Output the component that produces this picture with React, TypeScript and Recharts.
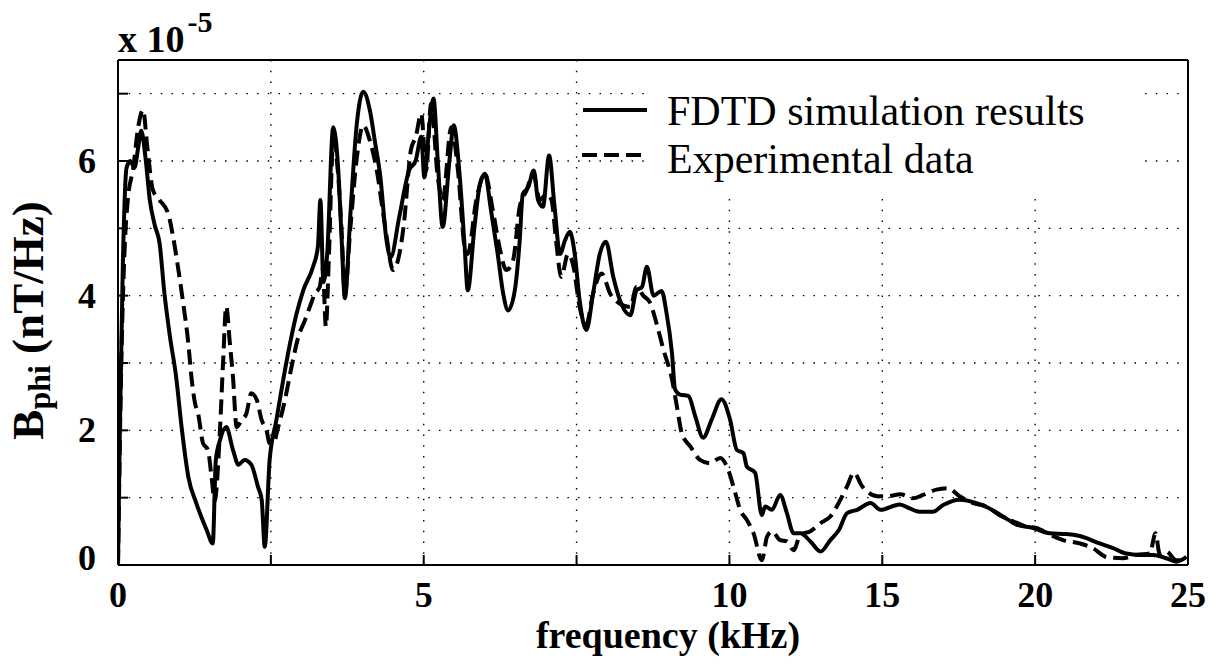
import React from 'react';
import { LineChart, Line, XAxis, YAxis, CartesianGrid, Legend, Label } from 'recharts';

// frequency in kHz, B_phi in units of 1e-5 nT/Hz
const fdtdFreq = [
  0, 0.03, 0.08, 0.14, 0.2, 0.27, 0.33, 0.38, 0.45, 0.52, 0.6, 0.68, 0.76, 0.85, 0.95, 1.04, 1.15, 1.28, 1.45, 1.55,
  1.6, 1.67, 1.77, 1.88, 1.97, 2.07, 2.18, 2.29, 2.35, 2.4, 2.48, 2.59, 2.76, 2.92, 3.03, 3.19, 3.27, 3.31, 3.36, 3.42,
  3.52, 3.6, 3.66, 3.71, 3.8, 3.9, 4.01, 4.12, 4.2, 4.29, 4.39, 4.46, 4.6, 4.76, 4.87, 4.96, 5.01, 5.09, 5.16, 5.23,
  5.31, 5.42, 5.49, 5.59, 5.67, 5.72, 5.83, 5.91, 6.0, 6.1, 6.21, 6.3, 6.38, 6.49, 6.57, 6.62, 6.71, 6.8, 6.87, 6.95,
  7.05, 7.14, 7.23, 7.31, 7.39, 7.47, 7.55, 7.66, 7.77, 7.88, 7.98, 8.1, 8.21, 8.38, 8.48, 8.57, 8.65, 8.76, 8.89, 8.97,
  9.06, 9.11, 9.19, 9.33, 9.44, 9.57, 9.71, 9.87, 10.02, 10.24, 10.46, 10.57, 10.84, 11.06, 11.17, 11.39, 11.66, 11.88,
  12.1, 12.32, 12.65, 12.98, 13.3, 13.58, 13.85, 14.18, 14.62, 14.94, 15.57, 15.9, 16.22, 16.66, 16.99, 17.53, 18.08,
  18.51, 18.95, 19.39, 19.93, 20.48, 21.02, 21.46, 22.11, 22.55, 22.98, 23.42, 23.86, 24.29, 24.62, 24.95,
];
const fdtdB = [
  0, 2.0, 4.5, 5.9, 6.0, 5.9, 6.2, 6.45, 6.05, 5.42, 5.05, 4.78, 4.03, 3.39, 2.8, 2.05, 1.31, 0.92, 0.52, 0.32,
  1.56, 1.86, 2.05, 1.71, 1.49, 1.56, 1.49, 1.16, 0.97, 0.27, 1.56, 2.15, 3.04, 3.73, 4.08, 4.43, 4.73, 5.42, 4.2, 4.6,
  6.5, 5.9, 4.8, 3.96, 5.2, 6.5, 7.03, 6.75, 6.3, 5.77, 4.83, 4.57, 5.17, 5.86, 6.01, 6.36, 5.76, 6.5, 6.93, 6.0,
  5.02, 6.0, 6.53, 5.76, 4.72, 4.08, 5.02, 5.61, 5.81, 5.27, 4.62, 4.03, 3.78, 4.08, 4.82, 5.51, 5.61, 5.86, 5.42, 5.32,
  6.08, 5.32, 4.62, 4.82, 4.95, 4.62, 3.93, 3.49, 4.03, 4.62, 4.8, 4.28, 3.93, 3.71, 4.08, 4.13, 4.43, 4.0, 4.07, 3.75,
  3.15, 2.61, 2.53, 2.51, 2.21, 1.89, 2.16, 2.46, 2.16, 1.71, 1.66, 1.46, 1.37, 0.74, 0.87, 0.82, 1.04, 0.77,
  0.47, 0.47, 0.35, 0.2, 0.37, 0.52, 0.77, 0.82, 0.92, 0.82, 0.9, 0.84, 0.79, 0.79, 0.89, 0.97, 0.92,
  0.84, 0.72, 0.6, 0.55, 0.47, 0.46, 0.43, 0.32, 0.25, 0.17, 0.15, 0.15, 0.1, 0.05, 0.12,
];

const expFreq = [
  0, 0.055, 0.11, 0.16, 0.25, 0.33, 0.41, 0.48, 0.57, 0.68, 0.82, 0.9, 0.98, 1.06, 1.15, 1.2, 1.26, 1.31, 1.39, 1.47,
  1.53, 1.58, 1.67, 1.72, 1.77, 1.83, 1.88, 1.94, 2.02, 2.1, 2.18, 2.27, 2.35, 2.43, 2.48, 2.54, 2.62, 2.73, 2.84, 2.95,
  3.06, 3.14, 3.22, 3.3, 3.35, 3.4, 3.45, 3.52, 3.6, 3.66, 3.71, 3.8, 3.9, 4.01, 4.12, 4.23, 4.37, 4.5, 4.67, 4.79,
  4.87, 4.96, 5.04, 5.12, 5.23, 5.31, 5.45, 5.56, 5.67, 5.72, 5.86, 6.0, 6.13, 6.24, 6.35, 6.46, 6.57, 6.68, 6.79, 6.9,
  7.01, 7.09, 7.17, 7.25, 7.36, 7.45, 7.55, 7.66, 7.77, 7.91, 8.05, 8.21, 8.38, 8.48, 8.59, 8.7, 8.81, 8.92, 9.06, 9.14,
  9.22, 9.36, 9.52, 9.68, 9.85, 9.96, 10.19, 10.35, 10.57, 10.79, 11.06, 11.23, 11.39, 11.66, 11.88, 12.1, 12.32, 12.65,
  12.98, 13.3, 13.63, 13.85, 14.07, 14.34, 14.56, 14.84, 15.16, 15.6, 16.0, 16.33, 16.77, 17.15, 17.53, 17.97, 18.4,
  18.84, 19.28, 19.71, 20.04, 20.48, 20.91, 21.46, 21.89, 22.33, 22.87, 23.31, 23.75, 23.94, 24.07, 24.29, 24.62, 24.95,
];
const expB = [
  0, 3.04, 4.73, 5.42, 5.9, 6.5, 6.76, 6.2, 5.57, 5.42, 5.22, 4.88, 4.43, 3.93, 3.29, 2.8, 2.4, 2.25, 1.81, 1.71,
  1.31, 0.95, 2.05, 3.04, 3.84, 3.29, 2.8, 2.05, 2.15, 2.25, 2.55, 2.45, 2.15, 2.0, 1.81, 1.81, 2.05, 2.45, 2.95, 3.39,
  3.64, 3.84, 4.03, 4.13, 4.4, 3.54, 4.6, 6.3, 5.8, 4.9, 4.03, 5.0, 6.0, 6.53, 6.3, 5.87, 5.02, 4.38, 5.02, 6.16,
  6.36, 6.7, 5.86, 6.85, 5.76, 5.42, 6.5, 5.86, 4.72, 4.62, 5.42, 5.81, 5.27, 4.72, 4.38, 4.52, 5.32, 5.56, 5.81, 5.42,
  5.51, 5.42, 4.77, 4.28, 4.62, 4.43, 3.83, 3.58, 4.03, 4.33, 4.03, 3.88, 3.83, 4.13, 4.0, 3.9, 3.58, 3.2, 2.76, 2.36,
  1.96, 1.76, 1.56, 1.51, 1.59, 1.46, 1.07, 0.82, 0.67, 0.47, 0.07, 0.42, 0.5, 0.37, 0.35, 0.22, 0.45, 0.5,
  0.62, 0.72, 0.97, 1.17, 1.37, 1.17, 1.07, 1.02, 1.02, 1.05, 0.99, 1.04, 1.12, 1.14, 1.02, 0.92, 0.87,
  0.74, 0.65, 0.57, 0.55, 0.45, 0.37, 0.32, 0.25, 0.12, 0.1, 0.15, 0.17, 0.47, 0.17, 0.2, 0.07, 0.07,
];

const xTickPos = [0, 1, 2, 3, 4, 5, 6, 7];
const xTickLabels = ['0', '', '5', '', '10', '15', '20', '25'];
const yTicks = [0, 1, 2, 3, 4, 5, 6, 7];
const yTickLabels = ['0', '', '2', '', '4', '', '6', ''];

// the frequency axis is 2.5 kHz per division up to 10 kHz, then 5 kHz per division
const toAxis = (f: number) => (f <= 10 ? f / 2.5 : 4 + (f - 10) / 5);

const fdtdData = fdtdFreq.map((f, i) => ({ f, b: fdtdB[i] }));
const expData = expFreq.map((f, i) => ({ f, b: expB[i] }));

const SERIF = { fontFamily: "'Liberation Serif', 'Times New Roman', Times, 'DejaVu Serif', serif" };
const TICK_LEN = 10;
const AXIS = { stroke: '#000', strokeWidth: 2 };

const BottomTick = (props: any) => {
  const { x, y, payload } = props;
  const label = xTickLabels[xTickPos.indexOf(payload.value)];
  return (
    <g>
      <line x1={x} y1={y} x2={x} y2={y - TICK_LEN} stroke="#000" strokeWidth={2} />
      <text x={x} y={y + 42} textAnchor="middle" style={SERIF} fontWeight="bold" fontSize={36} fill="#000">
        {label}
      </text>
    </g>
  );
};

const TopTick = (props: any) => {
  const { x, y } = props;
  return <line x1={x} y1={y} x2={x} y2={y + TICK_LEN} stroke="#000" strokeWidth={2} />;
};

const LeftTick = (props: any) => {
  const { x, y, payload } = props;
  const label = yTickLabels[yTicks.indexOf(payload.value)];
  return (
    <g>
      <line x1={x} y1={y} x2={x + TICK_LEN} y2={y} stroke="#000" strokeWidth={2} />
      <text x={x - 22} y={y + 12 - (payload.value === 0 ? 7 : 0)} textAnchor="end" style={SERIF}
        fontWeight="bold" fontSize={36} fill="#000">
        {label}
      </text>
    </g>
  );
};

const RightTick = (props: any) => {
  const { x, y } = props;
  return <line x1={x} y1={y} x2={x - TICK_LEN} y2={y} stroke="#000" strokeWidth={2} />;
};

const YTitle = (props: any) => {
  const vb = props.viewBox || { x: 0, y: 60, width: 118, height: 505 };
  const cx = vb.x + 43;
  const cy = vb.y + vb.height / 2 + 8;
  return (
    <text x={cx} y={cy} transform={`rotate(-90, ${cx}, ${cy})`} textAnchor="middle" style={SERIF}
      fontWeight="bold" fill="#000">
      <tspan fontSize={45}>B</tspan>
      <tspan fontSize={32} dy={7}>phi</tspan>
      <tspan fontSize={45} dy={-7}> (nT/Hz)</tspan>
    </text>
  );
};

const Exponent = (props: any) => {
  const vb = props.viewBox || { x: 0, y: 60, width: 118, height: 505 };
  const x = vb.x + vb.width;
  return (
    <text x={x} y={vb.y - 8} style={SERIF} fontWeight="bold" fill="#000">
      <tspan fontSize={38}>x 10</tspan>
      <tspan fontSize={30} dx={3} dy={-20}>-5</tspan>
    </text>
  );
};

const XTitle = (props: any) => {
  const vb = props.viewBox || { x: 118, y: 565, width: 1070, height: 60 };
  return (
    <text x={vb.x + 550} y={vb.y + 83} textAnchor="middle" style={SERIF} fontWeight="bold" fontSize={38}
      fill="#000">
      frequency (kHz)
    </text>
  );
};

const LegendBox = () => (
  <svg width={566} height={140} style={{ display: 'block' }}>
    <rect x={65} y={0} width={500} height={138} fill="#fff" />
    <line x1={3} y1={49} x2={67} y2={49} stroke="#000" strokeWidth={4} />
    <text x={87} y={64} style={SERIF} fontSize={42} fill="#000">FDTD simulation results</text>
    <line x1={2} y1={94} x2={66} y2={94} stroke="#000" strokeWidth={4} strokeDasharray="15 7" />
    <text x={87} y={112} style={SERIF} fontSize={42} fill="#000">Experimental data</text>
  </svg>
);

export default function App() {
  return (
    <div style={{ position: 'absolute', left: 0, top: 0, background: '#fff' }}>
      <LineChart width={1222} height={667} margin={{ top: 50, right: 24, bottom: 42, left: 0 }}>
        <CartesianGrid stroke="#000" strokeWidth={1.4} strokeDasharray="1.5 9.2" />
        <XAxis
          dataKey={(d: any) => toAxis(d.f)}
          type="number"
          domain={[0, 7]}
          ticks={xTickPos}
          interval={0}
          allowDataOverflow
          height={60}
          tickSize={0}
          tickMargin={0}
          tickLine={false}
          axisLine={AXIS}
          tick={<BottomTick />}
        >
          <Label content={<XTitle />} />
        </XAxis>
        <XAxis
          xAxisId="top"
          orientation="top"
          type="number"
          domain={[0, 7]}
          ticks={xTickPos}
          interval={0}
          height={10}
          tickSize={0}
          tickMargin={0}
          tickLine={false}
          axisLine={AXIS}
          tick={<TopTick />}
        />
        <YAxis
          type="number"
          domain={[0, 7.5]}
          ticks={yTicks}
          interval={0}
          allowDataOverflow
          width={118}
          tickSize={0}
          tickMargin={0}
          tickLine={false}
          axisLine={AXIS}
          tick={<LeftTick />}
        >
          <Label content={<YTitle />} />
          <Label content={<Exponent />} />
        </YAxis>
        <YAxis
          yAxisId="right"
          orientation="right"
          type="number"
          domain={[0, 7.5]}
          ticks={yTicks}
          interval={0}
          width={10}
          tickSize={0}
          tickMargin={0}
          tickLine={false}
          axisLine={AXIS}
          tick={<RightTick />}
        />
        <Legend
          layout="vertical"
          align="center"
          verticalAlign="middle"
          wrapperStyle={{ left: 580, top: 61, width: 566, height: 140 }}
          content={<LegendBox />}
        />
        <Line
          data={expData}
          dataKey="b"
          type="monotone"
          stroke="#000"
          strokeWidth={4}
          strokeDasharray="15 7"
          dot={false}
          activeDot={false}
          isAnimationActive={false}
        />
        <Line
          data={fdtdData}
          dataKey="b"
          type="monotone"
          stroke="#000"
          strokeWidth={4}
          dot={false}
          activeDot={false}
          isAnimationActive={false}
        />
      </LineChart>
    </div>
  );
}
